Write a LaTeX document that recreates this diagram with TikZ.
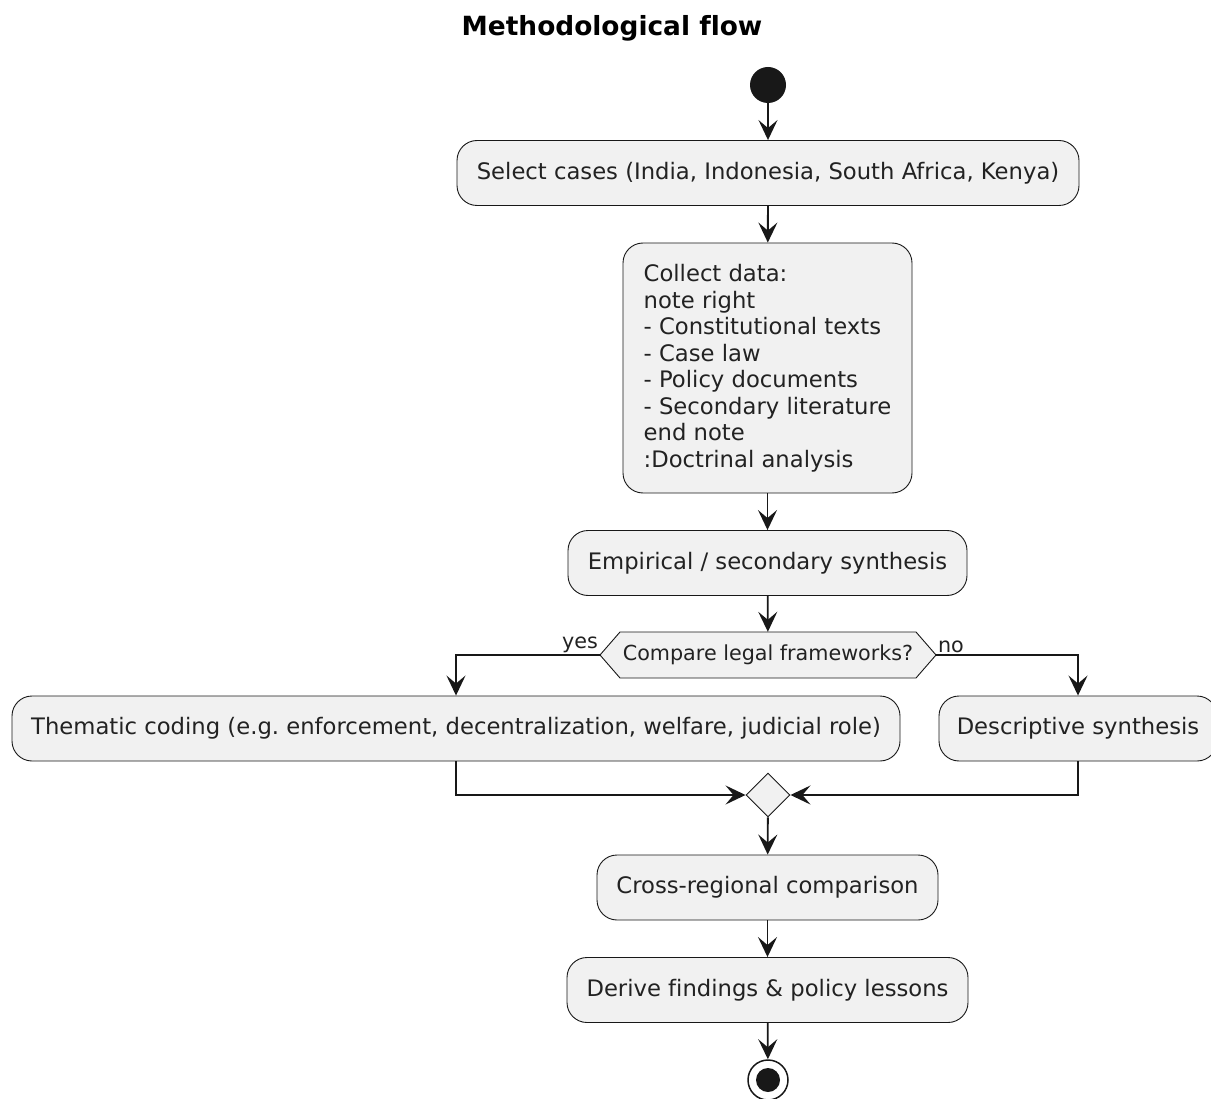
\documentclass[tikz,border=0pt]{standalone}
\usepackage{fontspec}
\setmainfont{DejaVu Sans}[Ligatures=NoCommon]
\usetikzlibrary{arrows.meta,shapes.geometric,positioning}
\definecolor{myfill}{RGB}{241,241,241}
\definecolor{myline}{RGB}{24,24,24}
\definecolor{mytext}{RGB}{34,34,34}
\frenchspacing

\begin{document}
\begin{tikzpicture}[x=1pt,y=-1pt,
  actnode/.style={draw=myline,line width=0.9pt,fill=myfill,rounded corners=20pt,
    minimum height=65pt,inner sep=0pt,text=mytext,
    font=\fontsize{22.7pt}{26.5pt}\selectfont},
  decnode/.style={minimum width=336pt,minimum height=46pt,inner sep=0pt,text=mytext,
    font=\fontsize{20.7pt}{24pt}\selectfont},
  mrgnode/.style={diamond,draw=myline,line width=0.9pt,fill=myfill,
    minimum width=44pt,minimum height=44pt,inner sep=0pt},
  startnode/.style={circle,fill=myline,minimum size=36pt,inner sep=0pt},
  endnode/.style={circle,draw=myline,line width=1.5pt,fill=white,minimum size=40pt,inner sep=0pt},
  arr/.style={draw=myline,line width=1.8pt,-{Stealth[length=20pt,width=19pt,inset=8pt]}},
  lbl/.style={text=mytext,inner sep=1pt,font=\fontsize{20.7pt}{24pt}\selectfont}]

  \useasboundingbox (0,0) rectangle (1211,1099);

  \node[font=\bfseries\fontsize{26.4pt}{30pt}\selectfont] (title) at (612,28) {Methodological flow};

  \node[startnode] (start) at (768,85) {};
  \node[actnode,minimum width=622pt] (sel) at (768,173)
    {Select cases (India, Indonesia, South Africa, Kenya)};
  \node[actnode,minimum width=289pt,minimum height=250pt,align=left] (col) at (767.5,368)
    {Collect data:\\note right\\- Constitutional texts\\- Case law\\- Policy documents\\
     - Secondary literature\\end note\\:Doctrinal analysis};
  \node[actnode,minimum width=399pt] (emp) at (767.5,563) {Empirical / secondary synthesis};

  % hexagon of the decision
  \draw[draw=myline,line width=0.9pt,fill=myfill] (600,655) -- (620,632) -- (916,632)
    -- (936,655) -- (916,678) -- (620,678) -- cycle;
  \node[decnode] (dec) at (768,655) {Compare legal frameworks?};

  \node[actnode,minimum width=888pt] (thm) at (456,728.5)
    {Thematic coding (e.g. enforcement, decentralization, welfare, judicial role)};
  \node[actnode,minimum width=278pt] (des) at (1078,728.5) {Descriptive synthesis};
  \node[mrgnode] (mrg) at (768,795) {};
  \node[actnode,minimum width=341pt] (cmp) at (767.5,887.5) {Cross-regional comparison};
  \node[actnode,minimum width=401pt] (der) at (767.5,990) {Derive findings \& policy lessons};
  \node[endnode] (stop) at (768,1080) {};
  \fill[myline] (stop.center) circle (12);

  \draw[arr] (start) -- (sel);
  \draw[arr] (sel) -- (col);
  \draw[arr] (col) -- (emp);
  \draw[arr] (emp) -- (dec);
  \draw[arr] (dec.west) node[lbl,anchor=south east] {yes} -| (thm);
  \draw[arr] (dec.east) node[lbl,anchor=south west] {no} -| (des);
  \draw[arr] (thm) |- (mrg);
  \draw[arr] (des) |- (mrg);
  \draw[arr] (mrg) -- (cmp);
  \draw[arr] (cmp) -- (der);
  \draw[arr] (der) -- (stop);

\end{tikzpicture}
\end{document}
